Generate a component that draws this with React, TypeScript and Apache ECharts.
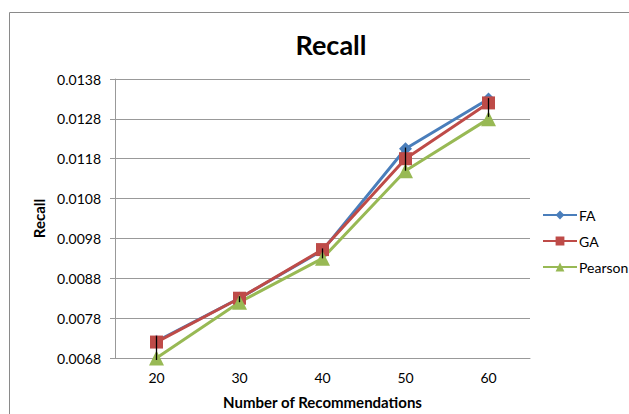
import React, { useEffect, useRef } from "react";
import * as echarts from "echarts";

const categories = ["20", "30", "40", "50", "60"];
const faValues = [0.00722, 0.0083, 0.0095, 0.01205, 0.0133];
const gaValues = [0.0072, 0.0083, 0.00952, 0.0118, 0.0132];
const pearsonValues = [0.0068, 0.0082, 0.0093, 0.0115, 0.0128];
const errLow = [0.00675, 0.0082, 0.0093, 0.0115, 0.01285];
const errHigh = [0.00735, 0.00835, 0.00955, 0.01208, 0.01332];

const FONT = "Lato";

export default function App() {
  const ref = useRef<HTMLDivElement>(null);
  useEffect(() => {
    const chart = echarts.init(ref.current!, null, { renderer: "svg" });
    chart.setOption({
      animation: false,
      backgroundColor: "#fff",
      textStyle: { fontFamily: FONT },
      title: {
        text: "Recall",
        left: 326,
        textAlign: "center",
        top: 26,
        textStyle: { fontSize: 27, fontWeight: "bold", color: "#000", fontFamily: FONT },
      },
      graphic: [
        {
          type: "rect",
          shape: { x: 9.5, y: 12.5, width: 640, height: 420 },
          style: { fill: "none", stroke: "#8a8a8a", lineWidth: 1 },
          silent: true,
        },
      ],
      legend: {
        orient: "vertical",
        left: 537,
        top: 203,
        itemGap: 12,
        itemWidth: 34,
        itemHeight: 11,
        textStyle: { fontSize: 14, color: "#000", fontFamily: FONT, padding: [0, 0, 0, -3] },
        data: ["FA", "GA", "Pearson"],
      },
      grid: { left: 115, right: 99, top: 79, bottom: 56, outerBoundsMode: "none", containLabel: false },
      xAxis: {
        type: "category",
        data: categories,
        boundaryGap: true,
        name: "Number of Recommendations",
        nameLocation: "middle",
        nameGap: 36,
        nameTextStyle: { fontSize: 15, fontWeight: "bold", color: "#000", fontFamily: FONT },
        axisLine: { lineStyle: { color: "#999", width: 1 } },
        axisTick: { show: false },
        axisLabel: { fontSize: 14, color: "#000", margin: 12, fontFamily: FONT },
      },
      yAxis: {
        type: "value",
        min: 0.0068,
        max: 0.0138,
        interval: 0.001,
        name: "Recall",
        nameLocation: "middle",
        nameGap: 66,
        nameTextStyle: { fontSize: 15, fontWeight: "bold", color: "#000", fontFamily: FONT },
        axisLine: { show: true, lineStyle: { color: "#999", width: 1 } },
        axisTick: { show: true, length: 5, lineStyle: { color: "#999" } },
        axisLabel: {
          fontSize: 14,
          color: "#000",
          margin: 14,
          fontFamily: FONT,
          formatter: (v: number) => v.toFixed(4),
        },
        splitLine: { lineStyle: { color: "#999", width: 1 } },
      },
      series: [
        {
          name: "FA",
          type: "line",
          data: faValues,
          symbol: "diamond",
          symbolSize: 13,
          color: "#4A7EBB",
          lineStyle: { width: 3, color: "#4A7EBB" },
          itemStyle: { color: "#4A7EBB" },
        },
        {
          name: "GA",
          type: "line",
          data: gaValues,
          symbol: "rect",
          symbolSize: 13,
          color: "#BE4B48",
          lineStyle: { width: 3, color: "#BE4B48" },
          itemStyle: { color: "#BE4B48" },
        },
        {
          name: "Pearson",
          type: "line",
          data: pearsonValues,
          symbol: "triangle",
          symbolSize: 15,
          color: "#98B954",
          lineStyle: { width: 3, color: "#98B954" },
          itemStyle: { color: "#98B954" },
        },
        {
          name: "err",
          type: "custom",
          data: categories.map((_, i) => [i, errLow[i], errHigh[i]]),
          encode: { x: 0, y: [1, 2] },
          z: 10,
          renderItem: (params: any, api: any) => {
            const i = api.value(0);
            const lo = api.coord([i, api.value(1)]);
            const hi = api.coord([i, api.value(2)]);
            return {
              type: "line",
              shape: { x1: lo[0], y1: lo[1], x2: hi[0], y2: hi[1] },
              style: { stroke: "#000", lineWidth: 1.3 },
            };
          },
        },
      ],
    });
    return () => chart.dispose();
  }, []);
  return (
    <div
      ref={ref}
      style={{ width: 629, height: 414, position: "absolute", left: 0, top: 0 }}
    />
  );
}
